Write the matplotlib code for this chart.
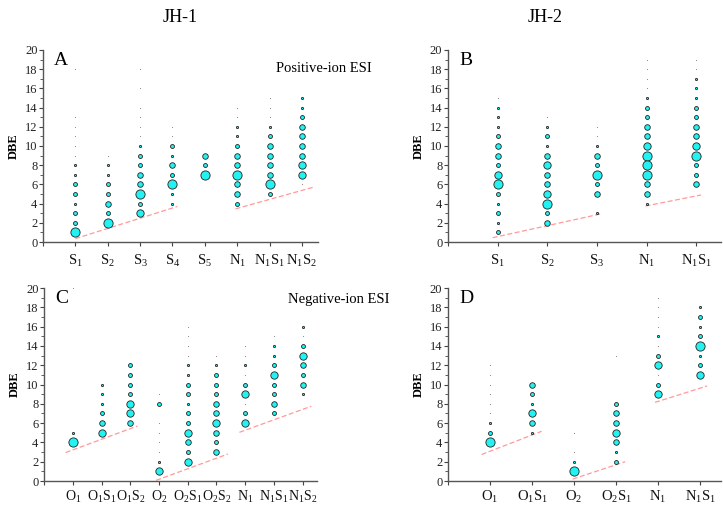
import matplotlib
matplotlib.use('Agg')
import matplotlib.pyplot as plt

plt.rcParams['font.family'] = ['Liberation Serif', 'DejaVu Serif']
plt.rcParams['mathtext.fontset'] = 'custom'
plt.rcParams['mathtext.rm'] = 'Liberation Serif'
plt.rcParams['mathtext.it'] = 'Liberation Serif'

# --- Data: each class -> {DBE: abundance level (0 = trace ... 5 = highest)} ---
# Panel A: JH-1, positive-ion ESI
a_labels = ['S$_1$', 'S$_2$', 'S$_3$', 'S$_4$', 'S$_5$', 'N$_1$', 'N$_1$S$_1$', 'N$_1$S$_2$']
a_data = [
    {18: 0, 13: 0, 12: 0, 11: 0, 10: 0, 9: 0, 8: 1, 7: 1, 6: 2, 5: 2, 4: 1, 3: 2, 2: 2, 1: 5},
    {9: 0, 8: 1, 7: 1, 6: 2, 5: 2, 4: 3, 3: 2, 2: 5},
    {18: 0, 16: 0, 14: 0, 13: 0, 12: 0, 11: 0, 10: 1, 9: 2, 8: 2, 7: 3, 6: 3, 5: 5, 4: 2, 3: 4},
    {12: 0, 11: 0, 10: 2, 9: 1, 8: 3, 7: 2, 6: 5, 5: 1, 4: 1},
    {9: 3, 8: 2, 7: 5},
    {14: 0, 13: 0, 12: 1, 11: 1, 10: 2, 9: 3, 8: 3, 7: 5, 6: 3, 5: 3, 4: 2},
    {15: 0, 14: 0, 13: 0, 12: 1, 11: 2, 10: 3, 9: 3, 8: 3, 7: 3, 6: 5, 5: 2},
    {15: 1, 14: 1, 13: 2, 12: 3, 11: 3, 10: 3, 9: 3, 8: 4, 7: 4, 6: 0},
]
a_lines = [((0.0, 0.35), (3.15, 3.7)), ((4.95, 3.45), (7.4, 5.75))]

# Panel B: JH-2, positive-ion ESI
b_labels = ['S$_1$', 'S$_2$', 'S$_3$', 'N$_1$', 'N$_1$S$_1$']
b_data = [
    {15: 0, 14: 1, 13: 1, 12: 1, 11: 2, 10: 3, 9: 3, 8: 2, 7: 4, 6: 5, 5: 2, 4: 1, 3: 2, 2: 1, 1: 2},
    {13: 0, 12: 1, 11: 2, 10: 1, 9: 3, 8: 4, 7: 3, 6: 3, 5: 4, 4: 5, 3: 2, 2: 3},
    {12: 0, 11: 0, 10: 1, 9: 3, 8: 2, 7: 5, 6: 2, 5: 3, 3: 1},
    {19: 0, 18: 0, 17: 0, 16: 0, 15: 1, 14: 2, 13: 2, 12: 3, 11: 3, 10: 4, 9: 5, 8: 5, 7: 5, 6: 3, 5: 3, 4: 1},
    {19: 0, 18: 0, 17: 1, 16: 1, 15: 1, 14: 2, 13: 2, 12: 3, 11: 3, 10: 4, 9: 5, 8: 2, 7: 2, 6: 3},
]
b_lines = [((-0.1, 0.45), (2.1, 2.95)), ((2.98, 3.75), (4.1, 4.9))]

# Panel C: JH-1, negative-ion ESI
c_labels = ['O$_1$', 'O$_1$S$_1$', 'O$_1$S$_2$', 'O$_2$', 'O$_2$S$_1$', 'O$_2$S$_2$',
            'N$_1$', 'N$_1$S$_1$', 'N$_1$S$_2$']
c_data = [
    {20: 0, 5: 1, 4: 5},
    {10: 1, 9: 1, 8: 1, 7: 2, 6: 3, 5: 4},
    {12: 2, 11: 2, 10: 2, 9: 2, 8: 4, 7: 4, 6: 3},
    {9: 0, 8: 2, 6: 0, 5: 0, 4: 0, 3: 0, 2: 1, 1: 4},
    {16: 0, 15: 0, 14: 0, 13: 0, 12: 1, 11: 1, 10: 2, 9: 2, 8: 1, 7: 2, 6: 2, 5: 4, 4: 3, 3: 2, 2: 4},
    {13: 0, 12: 1, 11: 2, 10: 2, 9: 2, 8: 3, 7: 3, 6: 4, 5: 3, 4: 2, 3: 3},
    {14: 0, 13: 0, 12: 1, 11: 0, 10: 2, 9: 4, 8: 0, 7: 2, 6: 4},
    {15: 0, 14: 1, 13: 1, 12: 2, 11: 4, 10: 2, 9: 2, 8: 3, 7: 2},
    {16: 1, 15: 0, 14: 2, 13: 4, 12: 3, 11: 2, 10: 3, 9: 1},
]
c_lines = [((-0.25, 2.95), (2.25, 5.7)), ((2.9, 0.07), (5.4, 2.8)), ((5.8, 5.05), (8.3, 7.75))]

# Panel D: JH-2, negative-ion ESI
d_labels = ['O$_1$', 'O$_1$S$_1$', 'O$_2$', 'O$_2$S$_1$', 'N$_1$', 'N$_1$S$_1$']
d_data = [
    {12: 0, 11: 0, 10: 0, 9: 0, 8: 0, 7: 0, 6: 1, 5: 2, 4: 5},
    {10: 3, 9: 2, 8: 1, 7: 4, 6: 3, 5: 1},
    {5: 0, 3: 0, 2: 1, 1: 5},
    {13: 0, 8: 2, 7: 3, 6: 3, 5: 4, 4: 3, 3: 1, 2: 2},
    {19: 0, 18: 0, 17: 0, 16: 0, 15: 1, 14: 0, 13: 2, 12: 4, 11: 0, 10: 2, 9: 4},
    {18: 1, 17: 2, 16: 1, 15: 2, 14: 5, 13: 1, 12: 2, 11: 4},
]
d_lines = [((-0.2, 2.75), (1.23, 5.15)), ((1.97, 0.2), (3.22, 2.0)), ((3.93, 8.15), (5.17, 9.85))]

# marker area for each abundance level
level_area = [0.6, 2.5, 8, 16, 28, 44]


def draw_panel(ax, labels, data, lines, letter, xfont=10.5, xpad=5):
    n = len(labels)
    for i, col in enumerate(data):
        for dbe, lev in col.items():
            if lev == 0:
                ax.scatter(i, dbe, s=level_area[0], color='#808080', linewidths=0,
                           clip_on=False, zorder=3)
            else:
                ax.scatter(i, dbe, s=level_area[lev], facecolor='#22F2F2',
                           edgecolor='#222222', linewidths=0.6, clip_on=False, zorder=3)
    for (x0, y0), (x1, y1) in lines:
        ax.plot([x0, x1], [y0, y1], color='#FF9A9A', linestyle=(0, (4, 2)),
                linewidth=0.9, zorder=2)
    ax.set_xlim(-1, n - 0.5)
    ax.set_ylim(0, 20)
    ax.set_xticks(range(-1, n))
    ax.set_xticklabels([''] + labels, fontsize=xfont)
    ax.set_yticks(range(0, 21, 2))
    ax.set_yticks(range(1, 20, 2), minor=True)
    ax.tick_params(axis='y', labelsize=9, length=3, width=0.8, colors='#444444',
                   labelcolor='#222222', pad=1)
    ax.tick_params(axis='y', which='minor', length=2, width=0.6, colors='#444444')
    ax.tick_params(axis='x', length=3, width=0.8, colors='#444444',
                   labelcolor='#111111', pad=xpad)
    for side in ['top', 'right']:
        ax.spines[side].set_visible(False)
    for side in ['left', 'bottom']:
        ax.spines[side].set_color('#555555')
        ax.spines[side].set_linewidth(1.0)
    ax.set_ylabel('DBE', fontsize=9, fontweight='bold', labelpad=4)
    ax.text(0.04, 0.99, letter, transform=ax.transAxes, fontsize=14,
            va='top', ha='left')


fig = plt.figure(figsize=(7.23, 5.08), dpi=100)
ax_a = fig.add_axes([0.0595, 0.5236, 0.3804, 0.378])
ax_b = fig.add_axes([0.6196, 0.5236, 0.3776, 0.378])
ax_c = fig.add_axes([0.0609, 0.0531, 0.3776, 0.3799])
ax_d = fig.add_axes([0.6196, 0.0531, 0.3776, 0.3799])

draw_panel(ax_a, a_labels, a_data, a_lines, 'A')
draw_panel(ax_b, b_labels, b_data, b_lines, 'B')
draw_panel(ax_c, c_labels, c_data, c_lines, 'C', xfont=10, xpad=3)
draw_panel(ax_d, d_labels, d_data, d_lines, 'D', xfont=10.5, xpad=3)

fig.text(180 / 723, 1 - 18 / 508, 'JH-1', fontsize=13, ha='center', va='center')
fig.text(545 / 723, 1 - 18 / 508, 'JH-2', fontsize=13, ha='center', va='center')
fig.text(276 / 723, 1 - 68 / 508, 'Positive-ion ESI', fontsize=10.5, ha='left', va='center')
fig.text(288 / 723, 1 - 300 / 508, 'Negative-ion ESI', fontsize=10.5, ha='left', va='center')

fig.savefig('out.png', dpi=100)
